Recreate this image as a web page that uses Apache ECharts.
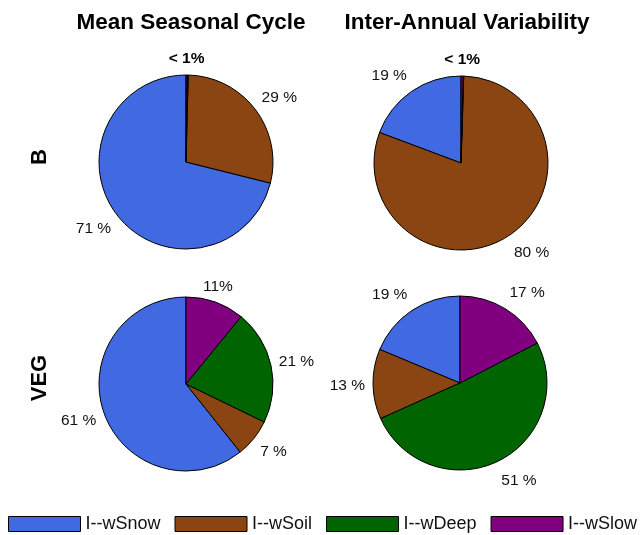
<!DOCTYPE html>
<html>
<head>
<meta charset="utf-8">
<script src="https://cdn.jsdelivr.net/npm/echarts@6/dist/echarts.min.js"></script>
<style>html,body{margin:0;padding:0;background:#fff}#c{width:640px;height:535px}</style>
</head>
<body>
<div id="c"></div>
<script>
// Components (legend order = counter-clockwise order from 12 o'clock)
const components = ['I--wSnow', 'I--wSoil', 'I--wDeep', 'I--wSlow'];
const colors = ['#4169E1', '#8B4513', '#006400', '#800080'];

// Column / row headings
const columnTitles = ['Mean Seasonal Cycle', 'Inter-Annual Variability'];
const rowTitles = ['B', 'VEG'];

// Shares (%) per panel, in component order
const bMean = [71.1, 28.5, 0.2, 0.2];
const bIav  = [19.3, 80.2, 0.1, 0.4];
const vegMean = [60.7, 7.1, 21.3, 10.9];
const vegIav  = [18.7, 13.0, 50.9, 17.4];

// Slice labels per panel
const bMeanLabels = ['71 %', '29 %', '', '< 1%'];
const bIavLabels  = ['19 %', '80 %', '', '< 1%'];
const vegMeanLabels = ['61 %', '7 %', '21 %', '11%'];
const vegIavLabels  = ['19 %', '13 %', '51 %', '17 %'];

const FONT = 'Liberation Sans, Arial, Helvetica, sans-serif';

const panels = [
  { values: bMean, labels: bMeanLabels, center: [186, 162] },
  { values: bIav, labels: bIavLabels, center: [461, 163] },
  { values: vegMean, labels: vegMeanLabels, center: [186, 384] },
  { values: vegIav, labels: vegIavLabels, center: [460, 383] }
];

// mid-angle of each slice (degrees, counter-clockwise from 3 o'clock, start at 12 o'clock)
function midAngles(values) {
  const total = values.reduce((a, b) => a + b, 0);
  let cum = 0;
  return values.map(v => {
    const m = 90 + 360 * (cum + v / 2) / total;
    cum += v;
    return m;
  });
}

const series = panels.map(p => {
  const mids = midAngles(p.values);
  return {
    type: 'pie',
    center: p.center,
    radius: 87,
    startAngle: 90,
    clockwise: false,
    avoidLabelOverlap: false,
    animation: false,
    silent: true,
    minAngle: 0,
    itemStyle: { borderColor: '#000', borderWidth: 1 },
    label: {
      show: true,
      position: 'outside',
      fontFamily: FONT,
      fontSize: 15.5,
      color: '#111',
      distanceToLabelLine: 0,
      formatter: params => p.labels[params.dataIndex]
    },
    labelLine: { show: false, length: 8, length2: 0 },
    labelLayout: params => {
      const a = mids[params.dataIndex] * Math.PI / 180;
      const s = Math.sin(a), c = Math.cos(a);
      if (Math.abs(c) < 0.4) {
        return { align: 'center', verticalAlign: s > 0 ? 'bottom' : 'top' };
      }
      return { dy: -12 * s + 1 };
    },
    emphasis: { disabled: true },
    data: components.map((name, i) => ({
      name: name,
      value: p.values[i],
      itemStyle: { color: colors[i] },
      label: p.labels[i] === '< 1%' ? { fontWeight: 'bold', color: '#000' } : undefined
    }))
  };
});

const chart = echarts.init(document.getElementById('c'), null, { renderer: 'canvas' });
chart.setOption({
  backgroundColor: '#fff',
  animation: false,
  title: [
    { text: columnTitles[0], left: 186, top: 6, textAlign: 'center',
      textStyle: { fontFamily: FONT, fontSize: 22.5, fontWeight: 'bold', color: '#000' } },
    { text: columnTitles[1], left: 462, top: 6, textAlign: 'center',
      textStyle: { fontFamily: FONT, fontSize: 22.5, fontWeight: 'bold', color: '#000' } }
  ],
  graphic: [
    { type: 'text', x: 40, y: 157, rotation: Math.PI / 2,
      style: { text: rowTitles[0], font: 'bold 22px ' + FONT, fill: '#000', align: 'center', verticalAlign: 'middle' } },
    { type: 'text', x: 40, y: 378, rotation: Math.PI / 2,
      style: { text: rowTitles[1], font: 'bold 22px ' + FONT, fill: '#000', align: 'center', verticalAlign: 'middle' } }
  ],
  legend: {
    data: components,
    left: 8,
    top: 515,
    width: 632,
    padding: 0,
    itemWidth: 72,
    itemHeight: 15,
    itemGap: 14,
    icon: 'rect',
    selectedMode: false,
    itemStyle: { borderColor: '#000', borderWidth: 1 },
    textStyle: { fontFamily: FONT, fontSize: 18, color: '#111' }
  },
  series: series
});
</script>
</body>
</html>
